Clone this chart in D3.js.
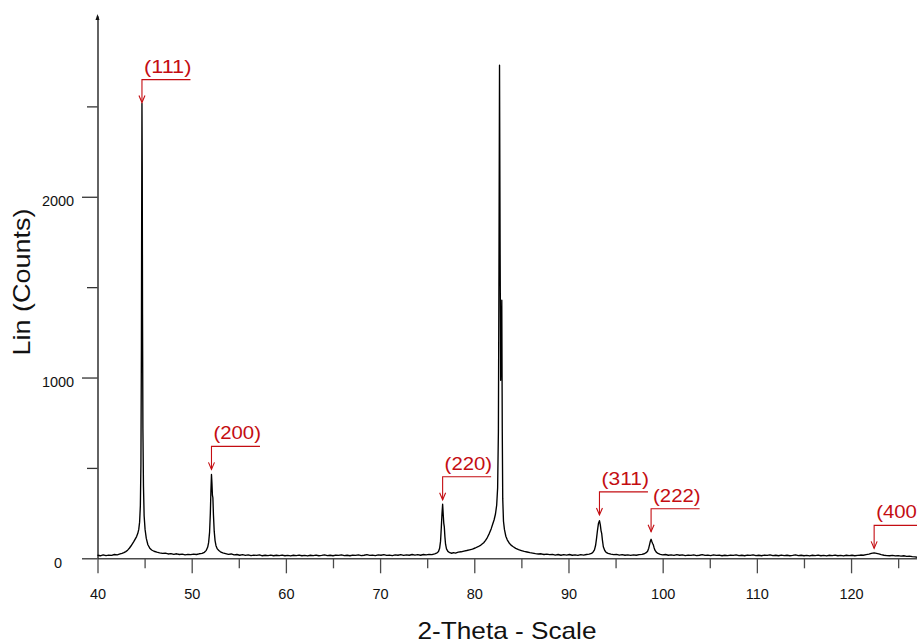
<!DOCTYPE html>
<html>
<head>
<meta charset="utf-8">
<script src="https://cdn.jsdelivr.net/npm/d3@7/dist/d3.min.js"></script>
<style>
  html, body { margin: 0; padding: 0; background: #fff; }
  svg { display: block; font-family: "Liberation Sans", Arial, sans-serif; }
</style>
</head>
<body>
<svg id="chart" width="917" height="643"></svg>
<script>
// ---- Data: [2-theta, counts] ----
const pattern = [
[40.0,17],[40.3,14],[40.6,19],[40.9,15],[41.2,18],[41.5,16],[41.8,21],[42.1,19],[42.4,24],[42.6,27],[42.8,31],[43.0,37],[43.2,45],[43.4,57],[43.55,68],[43.7,80],[43.85,92],[44.0,106],[44.15,120],[44.28,138],[44.38,160],[44.47,200],[44.55,290],[44.61,520],[44.66,1150],[44.69,1900],[44.72,2516],[44.75,2150],[44.78,1350],[44.82,720],[44.88,400],[44.95,235],[45.05,160],[45.18,110],[45.35,75],[45.55,56],[45.75,46],[46.0,39],[46.3,34],[46.6,30],[46.9,27],[47.2,29],[47.5,24],[47.8,26],[48.1,22],[48.4,25],[48.7,21],[49.0,23],[49.3,19],[49.6,22],[49.9,20],[50.2,23],[50.5,21],[50.8,25],[51.1,27],[51.35,33],[51.55,44],[51.7,62],[51.8,88],[51.9,145],[51.98,250],[52.04,370],[52.1,464],[52.15,415],[52.2,350],[52.25,335],[52.31,240],[52.39,150],[52.48,98],[52.58,70],[52.72,52],[52.88,43],[53.05,36],[53.3,30],[53.6,26],[53.9,22],[54.2,24],[54.5,19],[54.8,21],[55.1,17],[55.4,20],[55.7,16],[56.0,19],[56.3,15],[56.6,18],[56.9,16],[57.2,19],[57.5,14],[57.8,17],[58.1,15],[58.4,18],[58.7,14],[59.0,17],[59.3,15],[59.6,18],[59.9,14],[60.2,16],[60.5,13],[60.8,17],[61.1,15],[61.4,18],[61.7,14],[62.0,16],[62.3,13],[62.6,17],[62.9,15],[63.2,18],[63.5,14],[63.8,16],[64.1,19],[64.4,15],[64.7,17],[65.0,14],[65.3,18],[65.6,16],[65.9,19],[66.2,15],[66.5,17],[66.8,14],[67.1,18],[67.4,16],[67.7,19],[68.0,15],[68.3,17],[68.6,20],[68.9,16],[69.2,18],[69.5,15],[69.8,19],[70.1,17],[70.4,20],[70.7,16],[71.0,18],[71.3,15],[71.6,19],[71.9,17],[72.2,20],[72.5,16],[72.8,19],[73.1,17],[73.4,21],[73.7,18],[74.0,20],[74.3,17],[74.6,21],[74.9,19],[75.2,22],[75.5,20],[75.8,25],[76.05,30],[76.2,38],[76.32,55],[76.42,95],[76.5,170],[76.57,245],[76.64,299],[76.7,245],[76.76,195],[76.82,172],[76.88,120],[76.95,78],[77.05,52],[77.2,38],[77.4,31],[77.6,28],[77.8,31],[78.0,29],[78.3,34],[78.6,36],[78.9,40],[79.2,43],[79.5,47],[79.8,51],[80.1,57],[80.4,64],[80.7,73],[81.0,86],[81.2,99],[81.4,116],[81.6,138],[81.8,164],[81.95,188],[82.1,212],[82.25,245],[82.38,295],[82.48,390],[82.56,700],[82.62,1600],[82.68,2728],[82.74,1750],[82.8,985],[82.86,1150],[82.92,1428],[82.97,720],[83.02,330],[83.1,205],[83.2,160],[83.35,122],[83.5,102],[83.7,85],[83.9,73],[84.1,65],[84.4,55],[84.7,48],[85.0,43],[85.3,38],[85.6,35],[85.9,31],[86.2,29],[86.5,26],[86.8,24],[87.1,25],[87.4,21],[87.7,23],[88.0,20],[88.3,22],[88.6,18],[88.9,21],[89.2,17],[89.5,20],[89.8,18],[90.1,21],[90.4,17],[90.7,19],[91.0,16],[91.3,20],[91.6,18],[91.9,21],[92.2,23],[92.45,27],[92.62,35],[92.76,47],[92.88,72],[92.98,110],[93.08,155],[93.18,192],[93.29,208],[93.38,185],[93.46,152],[93.53,136],[93.6,102],[93.7,64],[93.85,43],[94.0,33],[94.2,27],[94.5,23],[94.8,20],[95.1,22],[95.4,18],[95.7,20],[96.0,17],[96.3,19],[96.6,16],[96.9,19],[97.2,17],[97.5,20],[97.8,22],[98.05,25],[98.25,31],[98.4,39],[98.52,56],[98.62,78],[98.7,96],[98.77,105],[98.85,93],[98.93,82],[99.0,76],[99.08,60],[99.18,45],[99.32,34],[99.5,27],[99.75,22],[100.0,19],[100.3,21],[100.6,17],[100.9,19],[101.2,16],[101.5,20],[101.8,17],[102.1,19],[102.4,15],[102.7,18],[103.0,16],[103.3,19],[103.6,15],[103.9,17],[104.2,20],[104.5,16],[104.8,18],[105.1,15],[105.4,19],[105.7,16],[106.0,18],[106.3,14],[106.6,17],[106.9,15],[107.2,18],[107.5,16],[107.8,19],[108.1,15],[108.4,17],[108.7,14],[109.0,18],[109.3,16],[109.6,19],[109.9,15],[110.2,17],[110.5,14],[110.8,18],[111.1,16],[111.4,19],[111.7,15],[112.0,17],[112.3,14],[112.6,18],[112.9,15],[113.2,17],[113.5,14],[113.8,16],[114.1,19],[114.4,15],[114.7,17],[115.0,14],[115.3,16],[115.6,13],[115.9,17],[116.2,15],[116.5,18],[116.8,14],[117.1,16],[117.4,13],[117.7,17],[118.0,15],[118.3,18],[118.6,14],[118.9,16],[119.2,13],[119.5,17],[119.8,15],[120.1,17],[120.4,14],[120.7,16],[121.0,18],[121.3,17],[121.6,20],[121.9,23],[122.15,27],[122.45,30],[122.7,27],[122.95,24],[123.2,20],[123.5,17],[123.8,15],[124.1,14],[124.4,16],[124.7,13],[125.0,15],[125.3,12],[125.6,14],[125.9,11],[126.2,12],[126.5,9],[126.8,8],[127.0,6]
];

// Peak annotations
const peakLabels    = ["(111)", "(200)", "(220)", "(311)", "(222)", "(400)"];
const peakPositions = [44.72, 52.1, 76.64, 93.29, 98.77, 122.45];
const arrowCounts   = [2521, 492, 324, 240, 147, 55];

// Axis ticks
const xMajorTicks = [40, 50, 60, 70, 80, 90, 100, 110, 120];
const xMinorTicks = [45, 55, 65, 75, 85, 95, 105, 115, 125];
const yMajorTicks = [0, 1000, 2000];
const yMinorTicks = [500, 1500, 2500];
const xDomain = [40, 127];
const yDomain = [0, 3000];
const xTitle = "2-Theta - Scale";
const yTitle = "Lin (Counts)";

// ---- Drawing ----
const svg = d3.select("#chart");
const x = d3.scaleLinear().domain(xDomain).range([97.5, 917]);
const y = d3.scaleLinear().domain(yDomain).range([558.3, 16]);
const red = "#c40d12";

// X axis
const xAxisMajor = d3.axisBottom(x).tickValues(xMajorTicks).tickSize(15).tickSizeOuter(0).tickFormat(d3.format("d"));
const gx = svg.append("g").attr("transform", `translate(0,${y(0)})`).call(xAxisMajor);
gx.select(".domain").attr("stroke", "#4a4a4a").attr("stroke-width", 1.4);
gx.selectAll(".tick line").attr("stroke", "#4a4a4a").attr("stroke-width", 1.3);
gx.selectAll(".tick text").attr("y", 40.5).attr("dy", "0")
  .attr("font-size", "14.5px").attr("fill", "#111")
  .attr("font-family", "'Liberation Sans', Arial, sans-serif");

const xAxisMinor = d3.axisBottom(x).tickValues(xMinorTicks).tickSize(10).tickSizeOuter(0).tickFormat("");
const gxm = svg.append("g").attr("transform", `translate(0,${y(0)})`).call(xAxisMinor);
gxm.select(".domain").remove();
gxm.selectAll(".tick line").attr("stroke", "#4a4a4a").attr("stroke-width", 1.3);

// Y axis
const yAxisMajor = d3.axisLeft(y).tickValues(yMajorTicks).tickSize(15.5).tickSizeOuter(0).tickFormat(d3.format("d"));
const gy = svg.append("g").attr("transform", `translate(${x(40)},0)`).call(yAxisMajor);
gy.select(".domain").attr("stroke", "#222").attr("stroke-width", 1.4);
gy.selectAll(".tick line").attr("stroke", "#333").attr("stroke-width", 1.3);
gy.selectAll(".tick text").attr("x", -39.5).attr("dy", "0").attr("y", 9)
  .attr("text-anchor", "middle")
  .attr("font-size", "14.5px").attr("fill", "#111")
  .attr("font-family", "'Liberation Sans', Arial, sans-serif");

const yAxisMinor = d3.axisLeft(y).tickValues(yMinorTicks).tickSize(10.5).tickSizeOuter(0).tickFormat("");
const gym = svg.append("g").attr("transform", `translate(${x(40)},0)`).call(yAxisMinor);
gym.select(".domain").remove();
gym.selectAll(".tick line").attr("stroke", "#333").attr("stroke-width", 1.3);

// Arrow tip on top of y axis
const yTop = y(yDomain[1]);
svg.append("path")
  .attr("d", `M${x(40)},${yTop - 2} L${x(40) - 2},${yTop + 4} L${x(40) + 2},${yTop + 4} Z`)
  .attr("fill", "#111");

// Pattern line
const line = d3.line().x(d => x(d[0])).y(d => y(d[1]));
svg.append("path")
  .datum(pattern)
  .attr("d", line)
  .attr("fill", "none")
  .attr("stroke", "#000")
  .attr("stroke-width", 1.35)
  .attr("stroke-linejoin", "round");

// Peak annotations
const ann = svg.append("g");
peakLabels.forEach((lab, i) => {
  const px = x(peakPositions[i]);
  const tipY = y(arrowCounts[i]);
  const hY = tipY - 23;
  const g = ann.append("g");
  g.append("path")
    .attr("d", `M${px},${tipY} L${px},${hY} L${px + 48.5},${hY}`)
    .attr("fill", "none").attr("stroke", red).attr("stroke-width", 1.1);
  g.append("path")
    .attr("d", `M${px - 3},${tipY - 7} L${px},${tipY} L${px + 3},${tipY - 7}`)
    .attr("fill", "none").attr("stroke", red).attr("stroke-width", 1.1);
  g.append("text")
    .attr("x", px + 2)
    .attr("y", hY - 7)
    .attr("fill", red)
    .attr("font-size", "18px")
    .attr("textLength", 47.5)
    .attr("lengthAdjust", "spacingAndGlyphs")
    .text(lab);
});

// Axis titles
svg.append("text")
  .attr("x", 507)
  .attr("y", 639)
  .attr("text-anchor", "middle")
  .attr("font-size", "24px")
  .attr("fill", "#111")
  .attr("textLength", 179)
  .attr("lengthAdjust", "spacingAndGlyphs")
  .text(xTitle);

svg.append("text")
  .attr("transform", "translate(30,282) rotate(-90)")
  .attr("text-anchor", "middle")
  .attr("font-size", "24px")
  .attr("fill", "#111")
  .attr("textLength", 147)
  .attr("lengthAdjust", "spacingAndGlyphs")
  .text(yTitle);
</script>
</body>
</html>
